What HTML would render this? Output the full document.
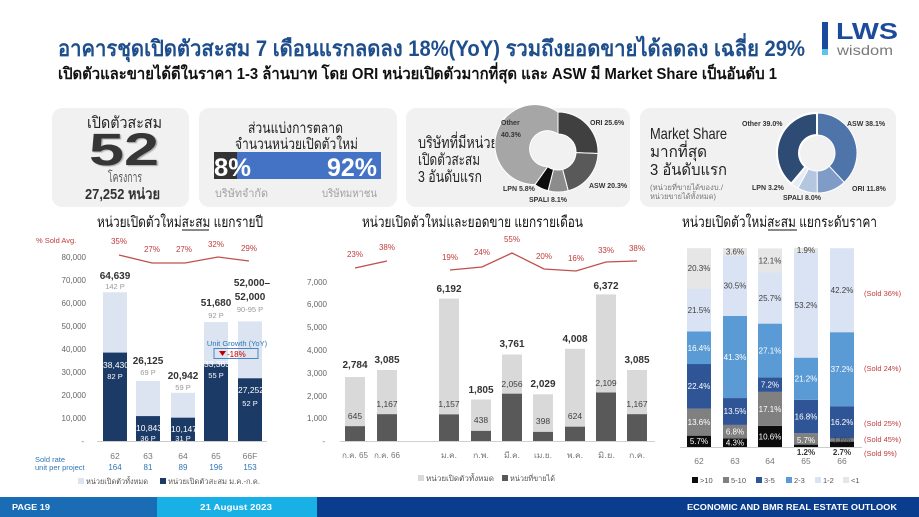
<!DOCTYPE html>
<html><head><meta charset="utf-8"><style>
html,body{margin:0;padding:0;background:#fff;width:919px;height:517px;overflow:hidden;position:relative}
svg{display:block;font-family:"Liberation Sans","DejaVu Sans","Noto Sans CJK SC",sans-serif}
.big{position:absolute;left:89px;top:127px;font-family:"Liberation Sans",sans-serif;font-weight:bold;font-size:45px;line-height:45px;color:#363636;transform:scaleX(1.4);transform-origin:0 0;white-space:nowrap;text-shadow:1px 1px 1px #aaa}
</style></head><body>
<svg width="919" height="517" viewBox="0 0 919 517" xmlns="http://www.w3.org/2000/svg">
<rect width="919" height="517" fill="#fff"/>
<!-- Title -->
<text x="58" y="56" font-size="22" font-weight="bold" fill="#1f4e8c" textLength="747" lengthAdjust="spacingAndGlyphs">อาคารชุดเปิดตัวสะสม 7 เดือนแรกลดลง 18%(YoY) รวมถึงยอดขายได้ลดลง เฉลี่ย 29%</text>
<text x="58" y="79" font-size="16" font-weight="bold" fill="#111" textLength="719" lengthAdjust="spacingAndGlyphs">เปิดตัวและขายได้ดีในราคา 1-3 ล้านบาท โดย ORI หน่วยเปิดตัวมากที่สุด และ ASW มี Market Share เป็นอันดับ 1</text>
<!-- Logo -->
<rect x="822" y="22" width="6" height="27" fill="#1c4a9c"/>
<rect x="822" y="49" width="6" height="6" fill="#5fc3ea"/>
<text x="836" y="39" font-size="23" font-weight="bold" fill="#1c4a9c" textLength="62" lengthAdjust="spacingAndGlyphs">LWS</text>
<text x="837" y="55" font-size="14" fill="#7a7a7a" textLength="56" lengthAdjust="spacingAndGlyphs">wisdom</text>

<!-- Cards -->
<rect x="52" y="108" width="137" height="99" rx="10" fill="#f1f1f1"/>
<rect x="199" y="108" width="198" height="99" rx="10" fill="#f1f1f1"/>
<rect x="406" y="108" width="224" height="99" rx="10" fill="#f1f1f1"/>
<rect x="640" y="108" width="256" height="99" rx="10" fill="#f1f1f1"/>

<!-- Card 1 -->
<text x="87" y="128" font-size="16" fill="#222" textLength="75" lengthAdjust="spacingAndGlyphs">เปิดตัวสะสม</text>
<text x="108" y="182" font-size="14" fill="#555" textLength="34" lengthAdjust="spacingAndGlyphs">โครงการ</text>
<text x="85" y="199" font-size="15" font-weight="bold" fill="#333" textLength="75" lengthAdjust="spacingAndGlyphs">27,252 หน่วย</text>

<!-- Card 2 -->
<text x="248" y="133" font-size="15" fill="#222" textLength="95" lengthAdjust="spacingAndGlyphs">ส่วนแบ่งการตลาด</text>
<text x="235" y="149" font-size="15" fill="#222" textLength="123" lengthAdjust="spacingAndGlyphs">จำนวนหน่วยเปิดตัวใหม่</text>
<rect x="214" y="152" width="167" height="27" fill="#4472c4"/>
<rect x="214" y="152" width="23" height="27" fill="#333"/>
<text x="214" y="176" font-size="25" font-weight="bold" fill="#fff" textLength="37" lengthAdjust="spacingAndGlyphs">8%</text>
<text x="327" y="176" font-size="25" font-weight="bold" fill="#fff" textLength="50" lengthAdjust="spacingAndGlyphs">92%</text>
<text x="215" y="197" font-size="11" fill="#a0a0a0" textLength="53" lengthAdjust="spacingAndGlyphs">บริษัทจำกัด</text>
<text x="322" y="197" font-size="11" fill="#a0a0a0" textLength="55" lengthAdjust="spacingAndGlyphs">บริษัทมหาชน</text>

<!-- Card 3 -->
<text x="418" y="148" font-size="16" fill="#222" textLength="80" lengthAdjust="spacingAndGlyphs">บริษัทที่มีหน่วย</text>
<text x="418" y="165" font-size="16" fill="#222" textLength="62" lengthAdjust="spacingAndGlyphs">เปิดตัวสะสม</text>
<text x="418" y="182" font-size="16" fill="#222" textLength="64" lengthAdjust="spacingAndGlyphs">3 อันดับแรก</text>
<g stroke="#fff" stroke-width="1">
<path d="M558,112 A40,40 0 0 1 597.97,153.51 L575.99,152.68 A18,18 0 0 0 558,134 Z" fill="#404040"/>
<path d="M597.97,153.51 A40,40 0 0 1 568.19,190.68 L562.59,169.41 A18,18 0 0 0 575.99,152.68 Z" fill="#595959"/>
<path d="M568.19,190.68 A40,40 0 0 1 548.05,190.74 L553.52,169.43 A18,18 0 0 0 562.59,169.41 Z" fill="#8c8c8c"/>
<path d="M548.05,190.74 A40,40 0 0 1 534.90,184.65 L547.60,166.69 A18,18 0 0 0 553.52,169.43 Z" fill="#0d0d0d"/>
<path d="M534.90,184.65 A40,40 0 1 1 558,112 L558,134 A18,18 0 1 0 547.60,166.69 Z" fill="#a6a6a6"/>
</g>
<g font-size="7" font-weight="bold" fill="#333">
<text x="501" y="125">Other</text>
<text x="501" y="137">40.3%</text>
<text x="590" y="125">ORI 25.6%</text>
<text x="589" y="188">ASW 20.3%</text>
<text x="503" y="191">LPN 5.8%</text>
<text x="529" y="202">SPALI 8.1%</text>
</g>

<!-- Card 4 -->
<text x="650" y="139" font-size="16" fill="#222" textLength="77" lengthAdjust="spacingAndGlyphs">Market Share</text>
<text x="650" y="157" font-size="16" fill="#222" textLength="57" lengthAdjust="spacingAndGlyphs">มากที่สุด</text>
<text x="650" y="175" font-size="16" fill="#222" textLength="77" lengthAdjust="spacingAndGlyphs">3 อันดับแรก</text>
<text x="650" y="190" font-size="7.5" fill="#777" textLength="73" lengthAdjust="spacingAndGlyphs">(หน่วยที่ขายได้ของบ./</text>
<text x="650" y="199" font-size="7.5" fill="#777" textLength="66" lengthAdjust="spacingAndGlyphs">หน่วยขายได้ทั้งหมด)</text>
<g stroke="#fff" stroke-width="1">
<path d="M817,113 A40,40 0 0 1 844.20,182.33 L829.24,166.20 A18,18 0 0 0 817,135 Z" fill="#4f74aa"/>
<path d="M844.20,182.33 A40,40 0 0 1 817.25,193 L817.11,171 A18,18 0 0 0 829.24,166.20 Z" fill="#7f9cc7"/>
<path d="M817.25,193 A40,40 0 0 1 797.95,188.17 L808.43,168.83 A18,18 0 0 0 817.11,171 Z" fill="#b4c6e0"/>
<path d="M797.95,188.17 A40,40 0 0 1 791.31,183.66 L805.44,166.80 A18,18 0 0 0 808.43,168.83 Z" fill="#e6ecf5"/>
<path d="M791.31,183.66 A40,40 0 0 1 817,113 L817,135 A18,18 0 0 0 805.44,166.80 Z" fill="#2e4b73" stroke-width="2"/>
</g>
<g font-size="7" font-weight="bold" fill="#333">
<text x="742" y="126">Other 39.0%</text>
<text x="847" y="126">ASW 38.1%</text>
<text x="852" y="191">ORI 11.8%</text>
<text x="752" y="190">LPN 3.2%</text>
<text x="783" y="200">SPALI 8.0%</text>
</g>

<!-- ===== LEFT CHART ===== -->
<text x="97" y="227" font-size="15" fill="#111" textLength="166" lengthAdjust="spacingAndGlyphs">หน่วยเปิดตัวใหม่สะสม แยกรายปี</text>
<line x1="182" y1="230" x2="209" y2="230" stroke="#111" stroke-width="1"/>
<text x="36" y="243" font-size="7.5" fill="#c23b3b">% Sold Avg.</text>
<g font-size="8" fill="#666" text-anchor="end">
<text x="86" y="260">80,000</text><text x="86" y="283">70,000</text><text x="86" y="306">60,000</text>
<text x="86" y="329">50,000</text><text x="86" y="352">40,000</text><text x="86" y="375">30,000</text>
<text x="86" y="398">20,000</text><text x="86" y="421">10,000</text><text x="84" y="444">-</text>
</g>
<g fill="#dbe4f0">
<rect x="103" y="292.3" width="24" height="148.7"/>
<rect x="136" y="380.9" width="24" height="60.1"/>
<rect x="171" y="392.8" width="24" height="48.2"/>
<rect x="204" y="322.1" width="24" height="118.9"/>
<rect x="238" y="321.4" width="24" height="119.6"/>
</g>
<g fill="#1b3a66">
<rect x="103" y="352.6" width="24" height="88.4"/>
<rect x="136" y="416.1" width="24" height="24.9"/>
<rect x="171" y="417.7" width="24" height="23.3"/>
<rect x="204" y="364.3" width="24" height="76.7"/>
<rect x="238" y="378.3" width="24" height="62.7"/>
</g>
<line x1="97" y1="441.5" x2="267" y2="441.5" stroke="#ccc" stroke-width="1"/>
<g font-size="10" font-weight="bold" fill="#333" text-anchor="middle">
<text x="115" y="279">64,639</text>
<text x="148" y="364">26,125</text>
<text x="183" y="379">20,942</text>
<text x="216" y="306">51,680</text>
<text x="252" y="286">52,000–</text>
<text x="250" y="300">52,000</text>
</g>
<g font-size="7.5" fill="#999" text-anchor="middle">
<text x="115" y="289">142 P</text>
<text x="148" y="375">69 P</text>
<text x="183" y="390">59 P</text>
<text x="216" y="318">92 P</text>
<text x="250" y="312">90-95 P</text>
</g>
<g font-size="8.5" fill="#fff" text-anchor="middle">
<text x="116" y="368">38,430</text><text x="115" y="379" font-size="7.5">82 P</text>
<text x="149" y="431">10,843</text><text x="148" y="441" font-size="7.5">36 P</text>
<text x="184" y="432">10,147</text><text x="183" y="441" font-size="7.5">31 P</text>
<text x="217" y="367">33,363</text><text x="216" y="378" font-size="7.5">55 P</text>
<text x="251" y="393">27,252</text><text x="250" y="406" font-size="7.5">52 P</text>
</g>
<polyline points="119,255 152,263 185,263 218,257 249,261" fill="none" stroke="#c0504d" stroke-width="1.3"/>
<g font-size="8" fill="#c23b3b" text-anchor="middle">
<text x="119" y="244">35%</text><text x="152" y="252">27%</text><text x="184" y="252">27%</text>
<text x="216" y="247">32%</text><text x="249" y="251">29%</text>
</g>
<text x="237" y="346" font-size="7.5" fill="#2e75b6" text-anchor="middle">Unit Growth (YoY)</text>
<rect x="214" y="348.5" width="44" height="10" fill="none" stroke="#4a86c5" stroke-width="1"/>
<path d="M219,351 L226,351 L222.5,356 Z" fill="#c00000"/>
<text x="227" y="357" font-size="8" fill="#c00000">-18%</text>
<g font-size="8.5" fill="#777" text-anchor="middle">
<text x="115" y="459">62</text><text x="148" y="459">63</text><text x="183" y="459">64</text>
<text x="216" y="459">65</text><text x="250" y="459">66F</text>
</g>
<text x="35" y="462" font-size="7.5" fill="#2e75b6">Sold rate</text>
<text x="35" y="470" font-size="7.5" fill="#2e75b6">unit per project</text>
<g font-size="8" fill="#2e75b6" text-anchor="middle">
<text x="115" y="470">164</text><text x="148" y="470">81</text><text x="183" y="470">89</text>
<text x="216" y="470">196</text><text x="250" y="470">153</text>
</g>
<rect x="78" y="478" width="6" height="6" fill="#dbe4f0"/>
<text x="86" y="484" font-size="7.5" fill="#555" textLength="62" lengthAdjust="spacingAndGlyphs">หน่วยเปิดตัวทั้งหมด</text>
<rect x="160" y="478" width="6" height="6" fill="#1b3a66"/>
<text x="168" y="484" font-size="7.5" fill="#555" textLength="92" lengthAdjust="spacingAndGlyphs">หน่วยเปิดตัวสะสม ม.ค.-ก.ค.</text>

<!-- ===== MIDDLE CHART ===== -->
<text x="362" y="227" font-size="15" fill="#111" textLength="221" lengthAdjust="spacingAndGlyphs">หน่วยเปิดตัวใหม่และยอดขาย แยกรายเดือน</text>
<g font-size="8" fill="#666" text-anchor="end">
<text x="327" y="285">7,000</text><text x="327" y="307">6,000</text><text x="327" y="330">5,000</text>
<text x="327" y="353">4,000</text><text x="327" y="376">3,000</text><text x="327" y="399">2,000</text>
<text x="327" y="421">1,000</text><text x="325" y="444">-</text>
</g>
<g fill="#d9d9d9">
<rect x="345" y="377" width="20" height="64"/>
<rect x="377" y="370" width="20" height="71"/>
<rect x="439" y="298.6" width="20" height="142.4"/>
<rect x="471" y="399.5" width="20" height="41.5"/>
<rect x="502" y="354.5" width="20" height="86.5"/>
<rect x="533" y="394.3" width="20" height="46.7"/>
<rect x="565" y="348.8" width="20" height="92.2"/>
<rect x="596" y="294.4" width="20" height="146.6"/>
<rect x="627" y="370" width="20" height="71"/>
</g>
<g fill="#595959">
<rect x="345" y="426.2" width="20" height="14.8"/>
<rect x="377" y="414.2" width="20" height="26.8"/>
<rect x="439" y="414.4" width="20" height="26.6"/>
<rect x="471" y="430.9" width="20" height="10.1"/>
<rect x="502" y="393.7" width="20" height="47.3"/>
<rect x="533" y="431.9" width="20" height="9.1"/>
<rect x="565" y="426.7" width="20" height="14.3"/>
<rect x="596" y="392.5" width="20" height="48.5"/>
<rect x="627" y="414.2" width="20" height="26.8"/>
</g>
<line x1="340" y1="441.5" x2="655" y2="441.5" stroke="#d0d0d0" stroke-width="1"/>
<g font-size="10" font-weight="bold" fill="#333" text-anchor="middle">
<text x="355" y="368">2,784</text><text x="387" y="363">3,085</text><text x="449" y="292">6,192</text>
<text x="481" y="393">1,805</text><text x="512" y="347">3,761</text><text x="543" y="387">2,029</text>
<text x="575" y="342">4,008</text><text x="606" y="289">6,372</text><text x="637" y="363">3,085</text>
</g>
<g font-size="8.5" fill="#404040" text-anchor="middle">
<text x="355" y="419">645</text><text x="387" y="407">1,167</text><text x="449" y="407">1,157</text>
<text x="481" y="423">438</text><text x="512" y="387">2,056</text><text x="543" y="424">398</text>
<text x="575" y="419">624</text><text x="606" y="386">2,109</text><text x="637" y="407">1,167</text>
</g>
<polyline points="355,268 387,261" fill="none" stroke="#c0504d" stroke-width="1.3"/>
<polyline points="450,270 482,267 512,253 544,269 576,271 606,262 637,261" fill="none" stroke="#c0504d" stroke-width="1.3"/>
<g font-size="8" fill="#c23b3b" text-anchor="middle">
<text x="355" y="257">23%</text><text x="387" y="250">38%</text>
<text x="450" y="260">19%</text><text x="482" y="255">24%</text><text x="512" y="242">55%</text>
<text x="544" y="259">20%</text><text x="576" y="261">16%</text><text x="606" y="253">33%</text><text x="637" y="251">38%</text>
</g>
<g font-size="8" fill="#777">
<text x="342" y="458" textLength="26" lengthAdjust="spacingAndGlyphs">ก.ค. 65</text>
<text x="374" y="458" textLength="26" lengthAdjust="spacingAndGlyphs">ก.ค. 66</text>
<text x="441" y="458" textLength="16" lengthAdjust="spacingAndGlyphs">ม.ค.</text>
<text x="473" y="458" textLength="16" lengthAdjust="spacingAndGlyphs">ก.พ.</text>
<text x="504" y="458" textLength="16" lengthAdjust="spacingAndGlyphs">มี.ค.</text>
<text x="534" y="458" textLength="18" lengthAdjust="spacingAndGlyphs">เม.ย.</text>
<text x="567" y="458" textLength="16" lengthAdjust="spacingAndGlyphs">พ.ค.</text>
<text x="598" y="458" textLength="17" lengthAdjust="spacingAndGlyphs">มิ.ย.</text>
<text x="629" y="458" textLength="16" lengthAdjust="spacingAndGlyphs">ก.ค.</text>
</g>
<rect x="418" y="475" width="6" height="6" fill="#d9d9d9"/>
<text x="426" y="481" font-size="7.5" fill="#555" textLength="68" lengthAdjust="spacingAndGlyphs">หน่วยเปิดตัวทั้งหมด</text>
<rect x="502" y="475" width="6" height="6" fill="#595959"/>
<text x="510" y="481" font-size="7.5" fill="#555" textLength="45" lengthAdjust="spacingAndGlyphs">หน่วยที่ขายได้</text>

<!-- ===== RIGHT CHART ===== -->
<text x="682" y="227" font-size="15" fill="#111" textLength="195" lengthAdjust="spacingAndGlyphs">หน่วยเปิดตัวใหม่สะสม แยกระดับราคา</text>
<line x1="768" y1="230" x2="797" y2="230" stroke="#111" stroke-width="1"/>
<!-- bar 62 -->
<rect x="687" y="435.66" width="24" height="11.34" fill="#0d0d0d"/>
<rect x="687" y="408.59" width="24" height="27.07" fill="#808080"/>
<rect x="687" y="364.02" width="24" height="44.57" fill="#2f5597"/>
<rect x="687" y="331.38" width="24" height="32.64" fill="#5b9bd5"/>
<rect x="687" y="288.60" width="24" height="42.78" fill="#dae3f3"/>
<rect x="687" y="248.20" width="24" height="40.40" fill="#e7e6e6"/>
<!-- bar 63 -->
<rect x="723" y="438.44" width="24" height="8.56" fill="#0d0d0d"/>
<rect x="723" y="424.91" width="24" height="13.53" fill="#808080"/>
<rect x="723" y="398.05" width="24" height="26.86" fill="#2f5597"/>
<rect x="723" y="315.86" width="24" height="82.19" fill="#5b9bd5"/>
<rect x="723" y="255.16" width="24" height="60.70" fill="#dae3f3"/>
<rect x="723" y="248.00" width="24" height="7.16" fill="#e7e6e6"/>
<!-- bar 64 -->
<rect x="758" y="425.91" width="24" height="21.09" fill="#0d0d0d"/>
<rect x="758" y="391.88" width="24" height="34.03" fill="#808080"/>
<rect x="758" y="377.55" width="24" height="14.33" fill="#2f5597"/>
<rect x="758" y="323.62" width="24" height="53.93" fill="#5b9bd5"/>
<rect x="758" y="272.48" width="24" height="51.14" fill="#dae3f3"/>
<rect x="758" y="248.40" width="24" height="24.08" fill="#e7e6e6"/>
<!-- bar 65 -->
<rect x="794" y="444.61" width="24" height="2.39" fill="#0d0d0d"/>
<rect x="794" y="433.27" width="24" height="11.34" fill="#808080"/>
<rect x="794" y="399.84" width="24" height="33.43" fill="#2f5597"/>
<rect x="794" y="357.65" width="24" height="42.19" fill="#5b9bd5"/>
<rect x="794" y="252.18" width="24" height="105.47" fill="#dae3f3"/>
<rect x="794" y="248.00" width="24" height="4.18" fill="#e7e6e6"/>
<!-- bar 66 -->
<rect x="830" y="441.63" width="24" height="5.37" fill="#0d0d0d"/>
<rect x="830" y="438.44" width="24" height="3.19" fill="#808080"/>
<rect x="830" y="406.21" width="24" height="32.23" fill="#2f5597"/>
<rect x="830" y="332.18" width="24" height="74.03" fill="#5b9bd5"/>
<rect x="830" y="248.20" width="24" height="83.98" fill="#dae3f3"/>
<line x1="680" y1="447.5" x2="862" y2="447.5" stroke="#ccc" stroke-width="1"/>
<g font-size="8" text-anchor="middle">
<g fill="#fff">
<text x="699" y="444">5.7%</text><text x="699" y="425">13.6%</text><text x="699" y="389">22.4%</text><text x="699" y="351">16.4%</text>
<text x="735" y="445.5">4.3%</text><text x="735" y="434.5">6.8%</text><text x="735" y="414">13.5%</text><text x="735" y="360">41.3%</text>
<text x="770" y="439.5">10.6%</text><text x="770" y="412">17.1%</text><text x="770" y="387.5">7.2%</text><text x="770" y="353.5">27.1%</text>
<text x="806" y="443">5.7%</text><text x="806" y="419.5">16.8%</text><text x="806" y="381.5">21.2%</text>
<text x="842" y="425">16.2%</text><text x="842" y="372">37.2%</text>
</g>
<g fill="#404040">
<text x="699" y="313">21.5%</text><text x="699" y="271">20.3%</text>
<text x="735" y="288.5">30.5%</text><text x="735" y="254.5">3.6%</text>
<text x="770" y="301">25.7%</text><text x="770" y="263.5">12.1%</text>
<text x="806" y="308">53.2%</text><text x="806" y="253">1.9%</text>
<text x="842" y="293">42.2%</text><text x="842" y="442.5">1.6%</text>
</g>
<g fill="#333" font-weight="bold">
<text x="806" y="455">1.2%</text><text x="842" y="455">2.7%</text>
</g>
<g fill="#777" font-size="8.5">
<text x="699" y="464">62</text><text x="735" y="464">63</text><text x="770" y="464">64</text>
<text x="806" y="464">65</text><text x="842" y="464">66</text>
</g>
</g>
<g font-size="7.5" fill="#c23b3b">
<text x="864" y="296">(Sold 36%)</text>
<text x="864" y="371">(Sold 24%)</text>
<text x="864" y="426">(Sold 25%)</text>
<text x="864" y="442">(Sold 45%)</text>
<text x="864" y="456">(Sold 9%)</text>
</g>
<g font-size="7.5" fill="#555">
<rect x="692" y="477" width="6" height="6" fill="#0d0d0d"/><text x="700" y="483">&gt;10</text>
<rect x="723" y="477" width="6" height="6" fill="#808080"/><text x="731" y="483">5-10</text>
<rect x="756" y="477" width="6" height="6" fill="#2f5597"/><text x="764" y="483">3-5</text>
<rect x="786" y="477" width="6" height="6" fill="#5b9bd5"/><text x="794" y="483">2-3</text>
<rect x="815" y="477" width="6" height="6" fill="#dae3f3"/><text x="823" y="483">1-2</text>
<rect x="843" y="477" width="6" height="6" fill="#e7e6e6"/><text x="851" y="483">&lt;1</text>
</g>

<!-- Footer -->
<rect x="0" y="497" width="157" height="20" fill="#1a6db5"/>
<rect x="157" y="497" width="160" height="20" fill="#19b0e6"/>
<rect x="317" y="497" width="602" height="20" fill="#0b3d8e"/>
<g font-size="8" font-weight="bold" fill="#fff">
<text x="12" y="510" textLength="38" lengthAdjust="spacingAndGlyphs">PAGE 19</text>
<text x="200" y="510" textLength="72" lengthAdjust="spacingAndGlyphs">21 August 2023</text>
<text x="687" y="510" textLength="210" lengthAdjust="spacingAndGlyphs">ECONOMIC AND BMR REAL ESTATE OUTLOOK</text>
</g>
</svg>
<div class="big">52</div>
</body></html>
